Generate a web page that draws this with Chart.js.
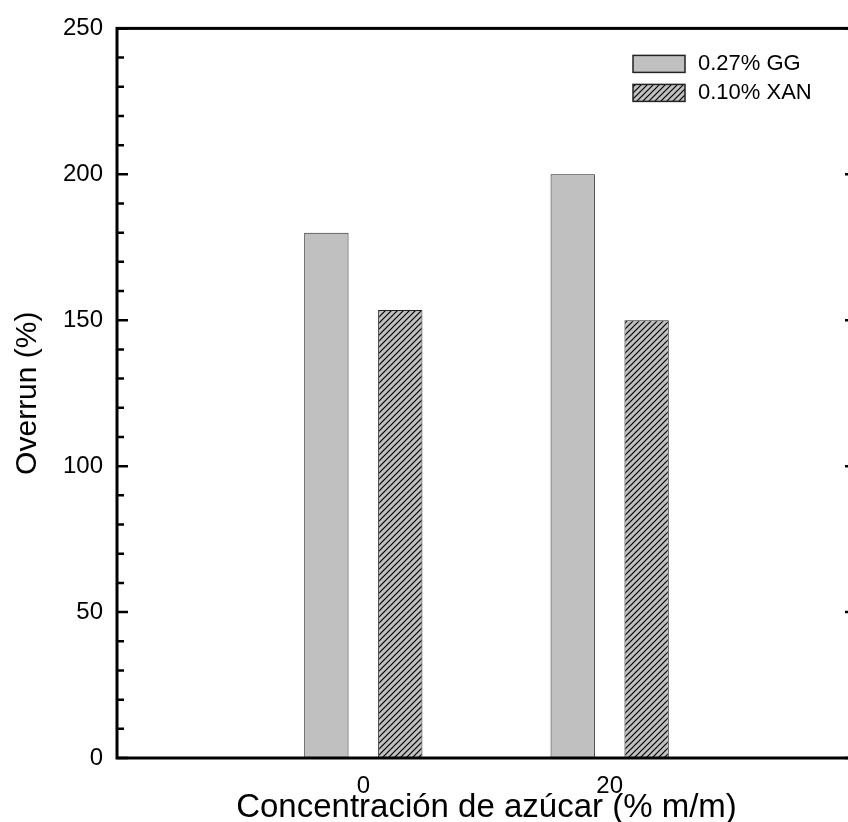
<!DOCTYPE html>
<html>
<head>
<meta charset="utf-8">
<script src="https://cdn.jsdelivr.net/npm/chart.js@4.4.0/dist/chart.umd.min.js"></script>
<style>
html, body { margin: 0; padding: 0; background: #fff; overflow: hidden; }
#wrap { width: 880px; height: 840px; }
</style>
</head>
<body>
<div id="wrap"><canvas id="overrunChart" width="880" height="840"></canvas></div>
<script>
// --- data ---
const sugarLabels = ['', '0', '20', ''];
const ggValues = [null, 180, 200, null];
const xanValues = [null, 153.5, 150, null];
const seriesNames = ['0.27% GG', '0.10% XAN'];
const yMajorTicks = [0, 50, 100, 150, 200, 250];

const FONT = '"Liberation Sans", Arial, sans-serif';

// diagonal hatch fill for the XAN series
function hatchPattern() {
    const s = 6;
    const c = document.createElement('canvas');
    c.width = s; c.height = s;
    const g = c.getContext('2d');
    g.fillStyle = '#c0c0c0';
    g.fillRect(0, 0, s, s);
    g.strokeStyle = '#000';
    g.lineWidth = 1.2;
    g.beginPath();
    g.moveTo(-1, s + 1); g.lineTo(s + 1, -1);
    g.moveTo(-1, 1); g.lineTo(1, -1);
    g.moveTo(s - 1, s + 1); g.lineTo(s + 1, s - 1);
    g.stroke();
    return g.createPattern(c, 'repeat');
}

// box frame + inward ticks on both vertical sides
const framePlugin = {
    id: 'frame',
    afterDatasetsDraw(chart) {
        const { ctx, chartArea: a, scales: { y } } = chart;
        ctx.save();
        ctx.strokeStyle = '#000';
        ctx.lineWidth = 2.5;
        y.ticks.forEach(t => {
            const py = y.getPixelForValue(t.value);
            const len = yMajorTicks.includes(t.value) ? 11 : 7;
            ctx.beginPath();
            ctx.moveTo(a.left, py); ctx.lineTo(a.left + len, py);
            ctx.moveTo(a.right, py); ctx.lineTo(a.right - len, py);
            ctx.stroke();
        });
        ctx.lineWidth = 3;
        ctx.strokeRect(a.left, a.top, a.right - a.left, a.bottom - a.top);
        ctx.restore();
    }
};

// legend inside the plot, top right
const boxLegend = {
    id: 'boxLegend',
    afterDraw(chart) {
        const { ctx, chartArea: a } = chart;
        const x0 = a.right - 223, y0 = a.top + 27;
        ctx.save();
        ctx.font = '22px ' + FONT;
        ctx.textBaseline = 'middle';
        chart.data.datasets.forEach((ds, i) => {
            const y = y0 + i * 29;
            ctx.fillStyle = ds.backgroundColor;
            ctx.fillRect(x0, y, 52, 17);
            ctx.lineWidth = 1.5;
            ctx.strokeStyle = '#222';
            ctx.strokeRect(x0, y, 52, 17);
            ctx.fillStyle = '#000';
            ctx.fillText(ds.label, x0 + 65, y + 9);
        });
        ctx.restore();
    }
};

const ctx = document.getElementById('overrunChart').getContext('2d');
new Chart(ctx, {
    type: 'bar',
    data: {
        labels: sugarLabels,
        datasets: [
            { label: seriesNames[0], data: ggValues, backgroundColor: '#c0c0c0', borderColor: '#222', borderWidth: 1 },
            { label: seriesNames[1], data: xanValues, backgroundColor: hatchPattern(), borderColor: '#222', borderWidth: 1 }
        ]
    },
    options: {
        responsive: false,
        animation: false,
        layout: { padding: { top: 25, right: 24, left: 0, bottom: 0 } },
        categoryPercentage: 0.6,
        barPercentage: 0.6,
        plugins: { legend: { display: false }, tooltip: { enabled: false } },
        scales: {
            x: {
                offset: false,
                grid: { display: false, drawTicks: false },
                border: { display: false },
                ticks: { color: '#000', font: { family: FONT, size: 24 }, padding: 14, maxRotation: 0, autoSkip: false },
                title: { display: true, text: 'Concentración de azúcar (% m/m)', color: '#000', font: { family: FONT, size: 33 }, padding: { top: 0, bottom: 12 } },
                afterFit: s => { s.height = 82; }
            },
            y: {
                min: 0, max: 250,
                grid: { display: false, drawTicks: false },
                border: { display: false },
                ticks: {
                    stepSize: 10, autoSkip: false, color: '#000', padding: 14,
                    font: { family: FONT, size: 24 },
                    callback: v => yMajorTicks.includes(v) ? String(v) : ''
                },
                title: { display: true, text: 'Overrun (%)', color: '#000', font: { family: FONT, size: 30 }, padding: { top: 10, bottom: 0 } },
                afterFit: s => { s.width = 117; }
            }
        }
    },
    plugins: [framePlugin, boxLegend]
});
</script>
</body>
</html>
